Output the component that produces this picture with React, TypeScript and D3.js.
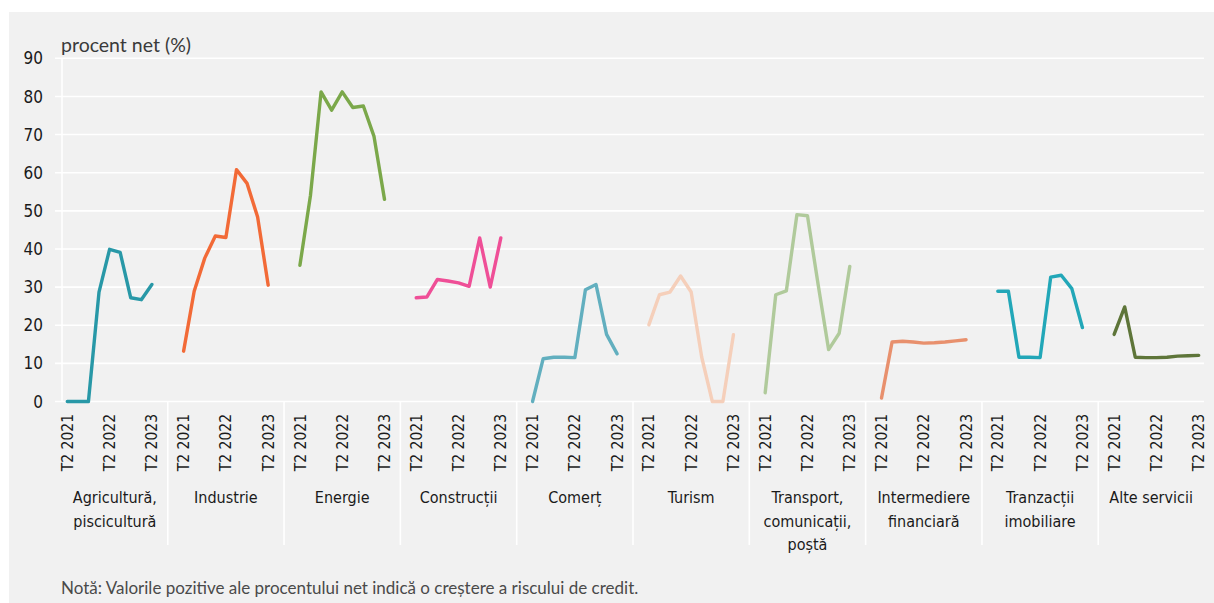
import React from "react";
import * as d3 from "d3";

// Quarters shown for every sector (only the T2 ones get a tick label)
const quarters = ["T2 2021", "T3 2021", "T4 2021", "T1 2022", "T2 2022", "T3 2022", "T4 2022", "T1 2023", "T2 2023"];
const labelledQuarters = ["T2 2021", "T2 2022", "T2 2023"];

const sectorNames = [
  ["Agricultură,", "piscicultură"],
  ["Industrie"],
  ["Energie"],
  ["Construcții"],
  ["Comerț"],
  ["Turism"],
  ["Transport,", "comunicații,", "poștă"],
  ["Intermediere", "financiară"],
  ["Tranzacții", "imobiliare"],
  ["Alte servicii"],
];

const agricultura = [0, 0, 0, 28.7, 39.9, 39.1, 27.2, 26.7, 30.7];
const industrie = [13.2, 28.9, 37.6, 43.4, 43.0, 60.8, 57.2, 48.4, 30.5];
const energie = [35.7, 54.1, 81.2, 76.4, 81.2, 77.1, 77.5, 69.6, 53.0];
const constructii = [27.2, 27.4, 32.0, 31.6, 31.1, 30.2, 42.9, 30.0, 42.9];
const comert = [0, 11.2, 11.6, 11.6, 11.5, 29.3, 30.7, 17.6, 12.5];
const turism = [20.1, 28.0, 28.7, 32.9, 28.7, 11.6, 0, 0, 17.5];
const transport = [2.3, 28.0, 29.0, 49.0, 48.7, 30.8, 13.6, 17.9, 35.4];
const intermediere = [0.9, 15.6, 15.8, 15.6, 15.3, 15.4, 15.6, 15.9, 16.2];
const tranzactii = [28.9, 28.9, 11.6, 11.6, 11.5, 32.6, 33.1, 29.6, 19.4];
const alteServicii = [17.6, 24.8, 11.6, 11.5, 11.5, 11.6, 11.9, 12.0, 12.1];

const sectorValues = [agricultura, industrie, energie, constructii, comert, turism, transport, intermediere, tranzactii, alteServicii];

const sectorColors = ["#2898a7", "#f26a37", "#7ba84a", "#ef4f97", "#62afbf", "#f5cfba", "#b0ca9b", "#e8906d", "#22a7b8", "#5e7539"];

const yTicks = [0, 10, 20, 30, 40, 50, 60, 70, 80, 90];

const W = 1214;
const H = 603;
const condensed = "'DejaVu Sans', sans-serif";
const regular = "Lato, 'Noto Sans', 'Liberation Sans', sans-serif";

// Each sector occupies 11 slots (a blank slot on both sides of its 9 quarters);
// the outermost blank slots at the plot edges are dropped.
const SLOTS_PER_SECTOR = 11;
const nSectors = sectorValues.length;
const totalSlots = nSectors * SLOTS_PER_SECTOR - 2;
const sectorStart = (k: number) => (k === 0 ? 0 : k * SLOTS_PER_SECTOR - 1);
const sectorEnd = (k: number) => (k === nSectors - 1 ? totalSlots : (k + 1) * SLOTS_PER_SECTOR - 1);
const pointSlot = (k: number, i: number) => (k === 0 ? i : sectorStart(k) + 1 + i) + 0.5;

const condStyle: React.CSSProperties = { fontStretch: "condensed" };

export default function App() {
  const x = d3.scaleLinear().domain([0, totalSlots]).range([62, 1204]);
  const y = d3.scaleLinear().domain([0, 90]).range([401.5, 58.3]);

  return (
    <div style={{ position: "absolute", left: 0, top: 0 }}>
      <style>{`body{margin:0}`}</style>
      <svg width={W} height={H} style={{ display: "block", background: "#ffffff" }}>
        <rect x={9} y={12} width={W - 9} height={H - 12} fill="#f1f1f1" />

        {/* gridlines */}
        {yTicks.map((t) => (
          <line key={"g" + t} x1={55} x2={1204} y1={y(t)} y2={y(t)} stroke="#ffffff" strokeWidth={1.6} />
        ))}
        <line x1={x(0)} x2={x(0)} y1={y(90)} y2={y(0)} stroke="#ffffff" strokeWidth={1.6} />

        {/* sector separators below the axis */}
        {d3.range(1, nSectors).map((k) => (
          <line key={"s" + k} x1={x(sectorStart(k))} x2={x(sectorStart(k))} y1={y(0)} y2={545} stroke="#ffffff" strokeWidth={1.6} />
        ))}

        {/* y tick labels */}
        {yTicks.map((t) => (
          <text key={"yt" + t} x={43} y={y(t)} dy="0.36em" textAnchor="end" fontFamily={condensed} style={condStyle} fontSize={17} fill="#1a1a1a">
            {t}
          </text>
        ))}

        <text x={61} y={52} fontFamily={regular} fontSize={19.5} fill="#3a3a3a">
          procent net (%)
        </text>

        {/* lines */}
        {sectorValues.map((vals, k) => {
          const line = d3
            .line<number>()
            .x((_, i) => x(pointSlot(k, i)))
            .y((v) => y(v));
          return (
            <path key={"l" + k} d={line(vals) || ""} fill="none" stroke={sectorColors[k]} strokeWidth={3.4} strokeLinejoin="round" strokeLinecap="round" />
          );
        })}

        {/* quarter tick labels */}
        {sectorValues.map((_, k) =>
          quarters.map((q, i) =>
            labelledQuarters.includes(q) ? (
              <text
                key={"xt" + k + "-" + i}
                transform={`translate(${x(pointSlot(k, i))},${414}) rotate(-90)`}
                dy="0.36em"
                textAnchor="end"
                fontFamily={condensed}
                style={condStyle}
                fontSize={15.5}
                fill="#1a1a1a"
              >
                {q}
              </text>
            ) : null
          )
        )}

        {/* sector names */}
        {sectorNames.map((lines, k) => {
          const cx = (x(sectorStart(k)) + x(sectorEnd(k))) / 2;
          return (
            <text key={"sn" + k} textAnchor="middle" fontFamily={condensed} style={condStyle} fontSize={16} fill="#1a1a1a">
              {lines.map((ln, j) => (
                <tspan key={j} x={cx} y={503 + j * 23.5}>
                  {ln}
                </tspan>
              ))}
            </text>
          );
        })}

        <text x={61} y={594} fontFamily={regular} fontSize={17} fill="#4a4a4a">
          Notă: Valorile pozitive ale procentului net indică o creștere a riscului de credit.
        </text>
      </svg>
    </div>
  );
}
